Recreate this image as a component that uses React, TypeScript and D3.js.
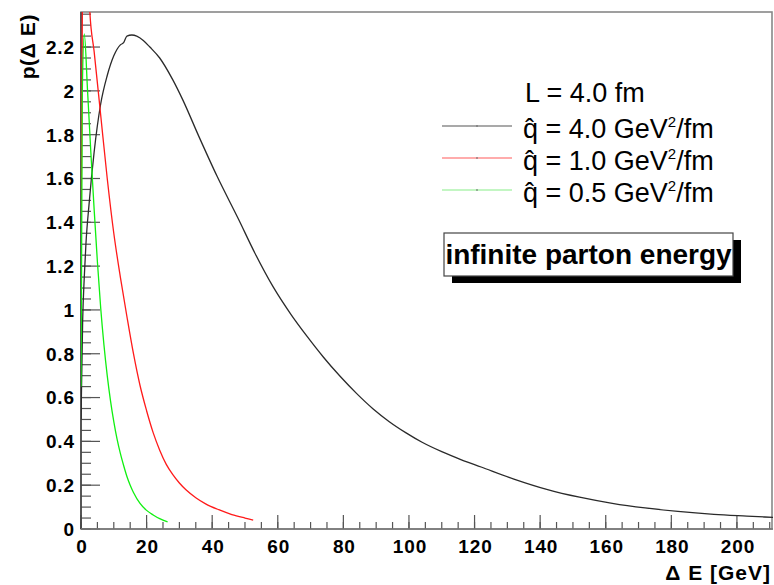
import { scaleLinear, line, range, curveMonotoneX } from 'd3'

const width = 774
const height = 585

const margin = {
  top: 12,
  right: 1,
  bottom: 55,
  left: 81
}

// energy loss distributions: [deltaE (GeV), p(deltaE)]
const qhat40 = [
  [0, 0.5], [0.5, 0.95], [1, 1.15], [1.5, 1.3], [2.5, 1.49], [4, 1.72], [6, 1.94],
  [8, 2.07], [10, 2.16], [11, 2.19], [12, 2.21], [13, 2.22], [14, 2.25], [15.5, 2.255],
  [17, 2.25], [19, 2.23], [21, 2.2], [24, 2.15], [28, 2.05], [31, 1.96], [36, 1.79],
  [41.5, 1.61], [48, 1.415], [53, 1.26], [58.6, 1.105], [64, 0.98], [69, 0.878], [74, 0.783],
  [79, 0.697], [84, 0.619], [89, 0.549], [94, 0.49], [99, 0.44], [104, 0.396], [110, 0.353],
  [116, 0.316], [122, 0.283], [132, 0.228], [142, 0.181], [152, 0.145], [162, 0.117],
  [172, 0.096], [182, 0.08], [193, 0.067], [203, 0.059], [211, 0.053]
]

const qhat10 = [
  [0, 1.28], [0.5, 2.6], [1.2, 2.8], [2, 2.6], [2.7, 2.36], [4, 2.18], [6, 1.89],
  [8, 1.6], [10, 1.35], [12, 1.15], [14, 0.97], [16, 0.8], [18, 0.655], [20, 0.54],
  [22, 0.44], [24, 0.36], [26, 0.295], [28, 0.248], [30, 0.21], [32, 0.179], [35, 0.143],
  [38, 0.115], [42, 0.088], [46, 0.066], [50, 0.05], [52.5, 0.041]
]

const qhat05 = [
  [0, 0.65], [0.4, 2.0], [1, 2.26], [2, 2.0], [3, 1.72], [4, 1.46], [5, 1.22],
  [6, 1.01], [7, 0.84], [8, 0.7], [9, 0.585], [10, 0.49], [11, 0.41], [12, 0.345],
  [13, 0.29], [14, 0.24], [15, 0.2], [16, 0.167], [18, 0.117], [20, 0.085], [22, 0.064],
  [24, 0.047], [26.4, 0.033]
]

const series = [
  { name: '4.0', data: qhat40, color: '#2a2a2a', legend: '#555555' },
  { name: '1.0', data: qhat10, color: '#ff1a1a', legend: '#ff5a5a' },
  { name: '0.5', data: qhat05, color: '#10f010', legend: '#88ee88' }
]

const xMajor = range(0, 201, 20)
const xMinor = range(0, 211, 5)
const yMajor = range(0, 2.21, 0.2)
const yMinor = range(0, 2.36, 0.05)

const fmt = (v: number) => (Math.abs(v) < 1e-9 ? '0' : String(Math.round(v * 10) / 10))

function App() {
  const xScale = scaleLinear()
    .domain([0, 211])
    .range([margin.left, width - margin.right])

  const yScale = scaleLinear()
    .domain([0, 2.36])
    .range([height - margin.bottom - 1, margin.top])

  const path = line<number[]>()
    .x(d => xScale(d[0]))
    .y(d => yScale(d[1]))
    .curve(curveMonotoneX)

  const x0 = xScale(0)
  const x1 = xScale(211)
  const y0 = yScale(0)
  const y1 = yScale(2.36)

  const bold = { fontFamily: 'Liberation Sans, Arial, sans-serif', fontWeight: 'bold' as const }
  const plain = { fontFamily: 'Liberation Sans, Arial, sans-serif' }

  return (
    <svg width={width} height={height} style={{ position: 'absolute', left: 0, top: 0, background: '#fff' }}>
      <defs>
        <clipPath id="plot">
          <rect x={x0} y={y1} width={x1 - x0} height={y0 - y1} />
        </clipPath>
      </defs>

      {/* frame */}
      <rect x={x0} y={y1} width={x1 - x0 - 1} height={y0 - y1} fill="none" stroke="#888" strokeWidth={1.6} />

      {/* y ticks */}
      {yMinor.map(v => (
        <line key={'ym' + v} x1={x0} x2={x0 + 10} y1={yScale(v)} y2={yScale(v)} stroke="#555" strokeWidth={1.2} />
      ))}
      {yMajor.map(v => (
        <line key={'yM' + v} x1={x0} x2={x0 + 19} y1={yScale(v)} y2={yScale(v)} stroke="#555" strokeWidth={1.2} />
      ))}
      {yMajor.map(v => (
        <text key={'yl' + v} x={75} y={yScale(v)} dy="0.36em" textAnchor="end" fontSize={19} letterSpacing={0.9} {...bold}>
          {fmt(v)}
        </text>
      ))}

      {/* x ticks */}
      {xMinor.map(v => (
        <line key={'xm' + v} x1={xScale(v)} x2={xScale(v)} y1={y0} y2={y0 - 7} stroke="#555" strokeWidth={1.2} />
      ))}
      {xMajor.map(v => (
        <line key={'xM' + v} x1={xScale(v)} x2={xScale(v)} y1={y0} y2={y0 - 14} stroke="#555" strokeWidth={1.2} />
      ))}
      {xMajor.map(v => (
        <text key={'xl' + v} x={xScale(v) + 1} y={553} textAnchor="middle" fontSize={19} letterSpacing={0.9} {...bold}>
          {v}
        </text>
      ))}

      {/* axes */}
      <line x1={x0} x2={x0} y1={y1} y2={y0} stroke="#444" strokeWidth={1.6} />
      <line x1={x0} x2={x1} y1={y0} y2={y0} stroke="#777" strokeWidth={1.6} />

      {/* titles */}
      <text x={771} y={580} textAnchor="end" fontSize={21} letterSpacing={1} {...bold}>Δ E [GeV]</text>
      <text transform="translate(35,14) rotate(-90)" textAnchor="end" fontSize={21} letterSpacing={0.6} {...bold}>p(Δ E)</text>

      {/* curves */}
      <g clipPath="url(#plot)">
        {series.map(s => (
          <path key={s.name} d={path(s.data) || ''} fill="none" stroke={s.color} strokeWidth={1.3} strokeLinejoin="round" />
        ))}
      </g>

      {/* legend */}
      <text x={525} y={102} fontSize={27} {...plain}>L = 4.0 fm</text>
      {series.map((s, i) => {
        const yb = 138 + i * 32
        return (
          <g key={'lg' + s.name}>
            <line x1={442} x2={512} y1={yb - 12} y2={yb - 12} stroke={s.legend} strokeWidth={1.2} />
            <line x1={477} x2={477} y1={yb - 13} y2={yb - 11} stroke="#666" strokeWidth={1} />
            <text x={523} y={yb} fontSize={27} {...plain}>
              {'q\u0302 = ' + s.name + ' GeV'}
              <tspan dy={-11} fontSize={15}>2</tspan>
              <tspan dy={11}>/fm</tspan>
            </text>
          </g>
        )
      })}

      {/* label box with shadow */}
      <rect x={452} y={240} width={289} height={43} fill="#000" />
      <rect x={444} y={233} width={289} height={43} fill="#fff" stroke="#444" strokeWidth={1.2} />
      <text x={588.5} y={264} textAnchor="middle" fontSize={28} {...bold}>infinite parton energy</text>
    </svg>
  )
}

export default App
